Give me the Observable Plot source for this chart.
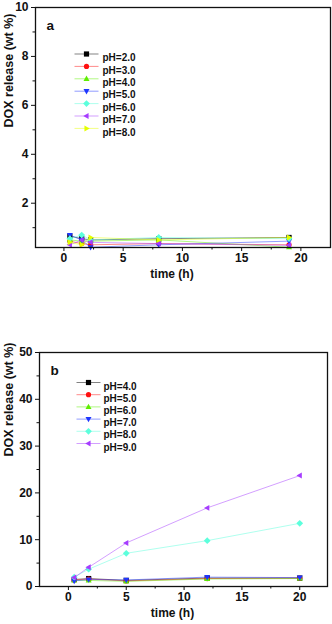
<!DOCTYPE html>
<html>
<head>
<meta charset="utf-8">
<script src="https://cdn.jsdelivr.net/npm/d3@7"></script>
<script src="https://cdn.jsdelivr.net/npm/@observablehq/plot@0.6"></script>
<style>
  body { margin: 0; background: #fff; }
  #chart svg { display: block; }
</style>
</head>
<body>
<div id="chart"></div>
<script>
// ---------- data: panel a ----------
const timesA = [0.5, 1.5, 2.25, 8, 19];
const labelsA = ["pH=2.0", "pH=3.0", "pH=4.0", "pH=5.0", "pH=6.0", "pH=7.0", "pH=8.0"];
const a_pH2 = [0.65, 0.55, 0.5, 0.55, 0.6];
const a_pH3 = [0.45, 0.35, 0.3, 0.35, 0.3];
const a_pH4 = [0.5, 0.45, 0.45, 0.5, 0.2];
const a_pH5 = [0.7, 0.5, 0.2, 0.3, 0.45];
const a_pH6 = [0.55, 0.7, 0.5, 0.6, 0.55];
const a_pH7 = [0.3, 0.5, 0.4, 0.35, 0.28];
const a_pH8 = [0.4, 0.3, 0.6, 0.5, 0.6];

// ---------- data: panel b ----------
const timesB = [0.5, 1.75, 5, 12, 20];
const labelsB = ["pH=4.0", "pH=5.0", "pH=6.0", "pH=7.0", "pH=8.0", "pH=9.0"];
const b_pH4 = [1.5, 1.7, 1.3, 1.8, 1.8];
const b_pH5 = [1.4, 1.6, 1.2, 1.7, 1.8];
const b_pH6 = [1.3, 1.3, 1.1, 1.6, 1.7];
const b_pH7 = [1.2, 1.5, 1.4, 2.0, 1.9];
const b_pH8 = [2.0, 3.7, 7.1, 9.8, 13.5];
const b_pH9 = [1.9, 4.1, 9.3, 16.8, 23.7];

// ticks
const xMajor = [0, 5, 10, 15, 20];
const xMinor = [2.5, 7.5, 12.5, 17.5];
const yMajorA = [2, 4, 6, 8, 10];
const yMinorA = [1, 3, 5, 7, 9];
const yMajorB = [0, 10, 20, 30, 40, 50];
const yMinorB = [5, 15, 25, 35, 45];

// styles
const colors = ["#000000", "#ff1010", "#5fee00", "#1e36ff", "#5cffdc", "#a63cff", "#e4ff00"];
const font = "'Liberation Sans', Arial, sans-serif";

const poly = (pts) => ({
  draw(ctx, size) {
    const r = Math.sqrt(size / Math.PI);
    ctx.moveTo(pts[0][0] * r, pts[0][1] * r);
    for (let i = 1; i < pts.length; i++) ctx.lineTo(pts[i][0] * r, pts[i][1] * r);
    ctx.closePath();
  }
});
const symbols = [
  poly([[-1, -1], [1, -1], [1, 1], [-1, 1]]),
  "circle",
  poly([[0, -1.25], [1.15, 0.8], [-1.15, 0.8]]),
  poly([[0, 1.25], [1.15, -0.8], [-1.15, -0.8]]),
  poly([[0, -1.3], [1.3, 0], [0, 1.3], [-1.3, 0]]),
  poly([[-1.25, 0], [0.8, -1.15], [0.8, 1.15]]),
  poly([[1.25, 0], [-0.8, -1.15], [-0.8, 1.15]])
];
const hline = { draw(ctx) { ctx.moveTo(-12, 0); ctx.lineTo(12, 0); } };

function panel({times, series, labels, colorIdx, symIdx, xDomain, yDomain, yMajor, yMinor,
                width, height, margins, legend, tag, yLabelShift}) {
  const marks = [];
  // axes
  marks.push(Plot.axisX({ticks: xMajor, tickSize: 4, tickPadding: 2, label: null, fontSize: 12, fontWeight: "bold"}));
  marks.push(Plot.axisX({ticks: xMinor, tickSize: 2.5, tickFormat: () => "", label: null}));
  marks.push(Plot.axisY({ticks: yMajor, tickSize: 4, tickPadding: 3, label: null, fontSize: 12, fontWeight: "bold"}));
  marks.push(Plot.axisY({ticks: yMinor, tickSize: 2.5, tickFormat: () => "", label: null}));
  // data
  series.forEach((vals, k) => {
    const rows = times.map((t, i) => ({t, v: vals[i]}));
    const c = colors[colorIdx[k]];
    marks.push(Plot.line(rows, {x: "t", y: "v", stroke: c, strokeWidth: 0.9, strokeOpacity: 0.55}));
    marks.push(Plot.dot(rows, {x: "t", y: "v", fill: c, r: 2.6, symbol: symbols[symIdx[k]]}));
  });
  // legend
  labels.forEach((lab, k) => {
    const c = colors[colorIdx[k]];
    const dy = legend.top + k * legend.step;
    marks.push(Plot.dot([lab], {frameAnchor: "top-left", dx: legend.sx, dy, symbol: hline, stroke: c, strokeWidth: 0.9, strokeOpacity: 0.55, fill: "none"}));
    marks.push(Plot.dot([lab], {frameAnchor: "top-left", dx: legend.sx, dy, symbol: symbols[symIdx[k]], fill: c, r: 2.6}));
    marks.push(Plot.text([lab], {frameAnchor: "top-left", dx: legend.tx, dy, text: d => d, textAnchor: "start",
      fontSize: 10, fontWeight: "bold", fill: "#111"}));
  });
  // panel tag
  marks.push(Plot.text([tag], {frameAnchor: "top-left", dx: 11, dy: 13, text: d => d, textAnchor: "start",
    fontSize: 13.5, fontWeight: "bold"}));
  // axis titles
  marks.push(Plot.text(["time (h)"], {frameAnchor: "bottom", dx: -11, dy: 30, text: d => d,
    fontSize: 12, fontWeight: "bold"}));
  marks.push(Plot.text(["DOX release (wt %)"], {frameAnchor: "left", dx: yLabelShift.dx, dy: yLabelShift.dy, rotate: -90, text: d => d,
    fontSize: 12.5, fontWeight: "bold"}));
  marks.push(Plot.frame({stroke: "#111", strokeWidth: 1.3}));

  return Plot.plot({
    width, height,
    marginLeft: margins[0], marginRight: margins[1], marginTop: margins[2], marginBottom: margins[3],
    style: {fontFamily: font, color: "#111", background: "#fff"},
    x: {domain: xDomain},
    y: {domain: yDomain},
    marks
  });
}

const chart = document.getElementById("chart");
chart.append(panel({
  times: timesA,
  series: [a_pH2, a_pH3, a_pH4, a_pH5, a_pH6, a_pH7, a_pH8],
  labels: labelsA,
  colorIdx: [0, 1, 2, 3, 4, 5, 6],
  symIdx: [0, 1, 2, 3, 4, 5, 6],
  xDomain: [-2.4, 22.5], yDomain: [0.19, 10],
  yMajor: yMajorA, yMinor: yMinorA,
  width: 332, height: 300, margins: [35, 2, 7, 53],
  legend: {sx: 51, tx: 67, top: 46.5, step: 12.4},
  tag: "a",
  yLabelShift: {dx: -27, dy: 0}
}));
chart.append(panel({
  times: timesB,
  series: [b_pH4, b_pH5, b_pH6, b_pH7, b_pH8, b_pH9],
  labels: labelsB,
  colorIdx: [0, 1, 2, 3, 4, 5],
  symIdx: [0, 1, 2, 3, 4, 5],
  xDomain: [-2.5, 22.4], yDomain: [0, 50],
  yMajor: yMajorB, yMinor: yMinorB,
  width: 332, height: 324, margins: [39, 5, 52, 38],
  legend: {sx: 49, tx: 64, top: 30, step: 12.2},
  tag: "b",
  yLabelShift: {dx: -31, dy: -13}
}));
</script>
</body>
</html>
